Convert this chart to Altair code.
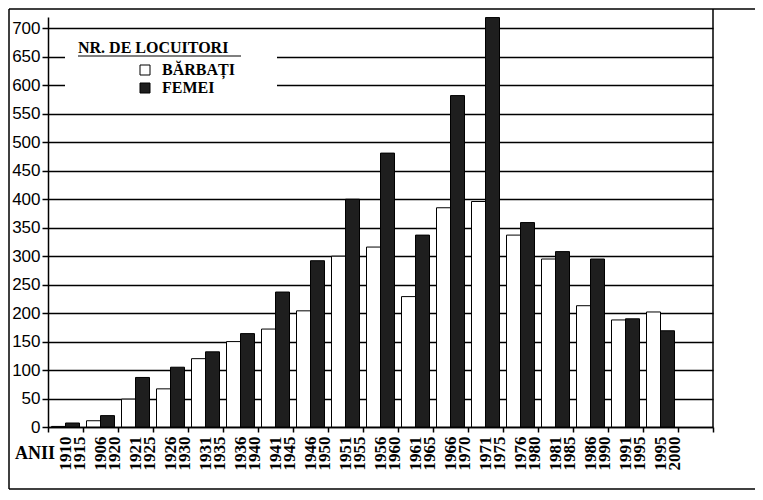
import altair as alt
import pandas as pd

periods = ["1910-1915", "1906-1920", "1921-1925", "1926-1930", "1931-1935", "1936-1940",
           "1941-1945", "1946-1950", "1951-1955", "1956-1960", "1961-1965", "1966-1970",
           "1971-1975", "1976-1980", "1981-1985", "1986-1990", "1991-1995", "1995-2000"]
barbati = [1, 11, 49, 67, 120, 150, 172, 204, 300, 316, 229, 385, 396, 337, 295, 213, 188, 202]
femei = [7, 20, 87, 105, 132, 164, 237, 292, 400, 481, 337, 582, 719, 359, 308, 295, 190, 169]
series = ["BĂRBAȚI", "FEMEI"]
y_ticks = list(range(0, 701, 50))
legend_title = "NR. DE LOCUITORI"
x_title = "ANII"

df = pd.DataFrame({
    "perioada": periods * 2,
    "sex": [series[0]] * len(periods) + [series[1]] * len(periods),
    "val": barbati + femei,
})

W, H = 665, 410
DARK = "#1e1e1e"
SERIF = "Liberation Serif"
SANS = "Liberation Sans"

bars = alt.Chart(df).mark_bar(stroke="black", strokeWidth=1).encode(
    x=alt.X("perioada:N", sort=None,
            scale=alt.Scale(domain=periods + [" "], paddingInner=0, paddingOuter=0),
            axis=alt.Axis(title=None, labelExpr="split(datum.label, '-')", labelAngle=270,
                          labelFont=SERIF, labelFontWeight="bold", labelFontSize=17,
                          labelLineHeight=14, labelColor="black", labelPadding=4,
                          tickBand="extent", tickSize=5, tickColor="black", tickWidth=1.5,
                          domainColor="black", domainWidth=1.5, grid=False)),
    xOffset=alt.XOffset("sex:N", scale=alt.Scale(domain=series, paddingOuter=0.25, paddingInner=0)),
    y=alt.Y("val:Q", scale=alt.Scale(domain=[0, 720], nice=False),
            axis=alt.Axis(title=None, values=y_ticks, labelFont=SANS, labelFontSize=17,
                          labelColor="black", labelPadding=2, tickSize=6, tickColor="black",
                          tickWidth=1.5, domainColor="black", domainWidth=1.5,
                          grid=True, gridColor="black", gridWidth=1.3, gridOpacity=1)),
    fill=alt.Fill("sex:N", scale=alt.Scale(domain=series, range=["white", DARK]), legend=None),
)

one = pd.DataFrame({"k": [0]})
base = alt.Chart(one)

frame_top = base.mark_rule(color="black", strokeWidth=1.5).encode(
    x=alt.value(-39), x2=alt.value(W + 42), y=alt.value(-8))
frame_left = base.mark_rule(color="black", strokeWidth=1.5).encode(
    x=alt.value(-39), y=alt.value(-8), y2=alt.value(H + 62))
frame_bottom = base.mark_rule(color="black", strokeWidth=1.5).encode(
    x=alt.value(-39), x2=alt.value(W + 42), y=alt.value(H + 62))
right_line = base.mark_rule(color="black", strokeWidth=1.5).encode(
    x=alt.value(W), y=alt.value(-8), y2=alt.value(H))

legend_bg = base.mark_rect(fill="white").encode(
    x=alt.value(17), x2=alt.value(229), y=alt.value(18), y2=alt.value(83))
legend_t = base.mark_text(text=legend_title, font=SERIF, fontWeight="bold", fontSize=16,
                          align="left", baseline="middle", color="black").encode(
    x=alt.value(30), y=alt.value(31))
legend_ul = base.mark_rule(color="black", strokeWidth=1.2).encode(
    x=alt.value(30), x2=alt.value(193), y=alt.value(39))

leg_df = pd.DataFrame({"sex": series, "row": [0, 1]})
row_scale = alt.Scale(domain=[0, 1], range=[53, 71])
leg_sym = alt.Chart(leg_df).mark_square(size=100, stroke="black", strokeWidth=1, opacity=1).encode(
    x=alt.value(97),
    y=alt.Y("row:Q", scale=row_scale, axis=None),
    fill=alt.Fill("sex:N", scale=alt.Scale(domain=series, range=["white", DARK]), legend=None),
)
leg_txt = alt.Chart(leg_df).mark_text(font=SERIF, fontWeight="bold", fontSize=16, align="left",
                                      baseline="middle", color="black").encode(
    x=alt.value(114),
    y=alt.Y("row:Q", scale=row_scale, axis=None),
    text="sex:N",
)

anii = base.mark_text(text=x_title, font=SERIF, fontWeight="bold", fontSize=18,
                      align="center", baseline="middle", color="black").encode(
    x=alt.value(-13), y=alt.value(437))

chart = alt.layer(
    bars, right_line, legend_bg, legend_t, legend_ul, leg_sym, leg_txt, anii,
    frame_top, frame_left, frame_bottom
).resolve_scale(y="independent").properties(
    width=W, height=H,
    autosize=alt.AutoSizeParams(type="none"),
    padding={"left": 40, "top": 9, "right": 42, "bottom": 63},
    background="white",
).configure_view(stroke=None)

chart.save("out.html", embed_options={"renderer": "svg", "actions": False})
